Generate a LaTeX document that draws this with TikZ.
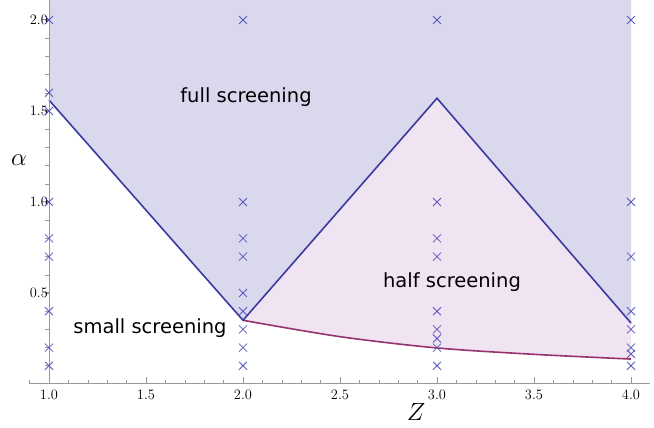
\documentclass[tikz,border=0pt]{standalone}
\usepackage{fontspec}
\setmainfont{Liberation Serif}
\newfontfamily\lblfont{DejaVu Sans}
\definecolor{cbfill}{RGB}{217,216,236}
\definecolor{cpfill}{RGB}{240,228,242}
\definecolor{cbline}{RGB}{58,58,160}
\definecolor{cpline}{RGB}{150,50,110}
\definecolor{ccross}{RGB}{90,90,190}
\begin{document}
\begin{tikzpicture}[
  bluefill/.style={fill=cbfill},
  pinkfill/.style={fill=cpfill},
  blueline/.style={draw=cbline,line width=1.6pt},
  purpline/.style={draw=cpline,line width=1.6pt},
  axis/.style={draw=gray!80,line width=1pt},
  crossline/.style={draw=ccross,line width=0.8pt},
  lbl/.style={font=\lblfont\fontsize{19.5}{22}\selectfont},
  tick/.style={font=\fontsize{14}{16}\selectfont}]
\useasboundingbox (0,0) rectangle (654pt,428pt);
\begin{scope}[x=194pt,y=182pt,shift={(-145pt,44pt)}]
  \fill[bluefill] (1,2.11) -- (1,1.56) -- (2,0.35) -- (3,1.57) -- (4,0.335) -- (4,2.11) -- cycle;
  \fill[pinkfill] (2,0.35) -- (3,1.57) -- (4,0.335) -- (4,0.137) plot[smooth] coordinates {(4,0.137) (3.5,0.163) (3,0.198) (2.5,0.26) (2,0.35)} -- cycle;
  \draw[purpline] plot[smooth] coordinates {(2,0.35) (2.5,0.26) (3,0.198) (3.5,0.163) (4,0.137)};
  \draw[blueline] (1,1.56) -- (2,0.35) -- (3,1.57) -- (4,0.335);
  \draw[axis] (0.902,0) -- (4.098,0);
  \draw[axis] (1,0) -- (1,2.11);
  \foreach \t in {0.9,1.0,...,4.05} \draw[axis,line width=0.6pt] (\t,0) -- ++(0,4pt);
  \foreach \t in {1.0,1.5,...,4.05} \draw[axis] (\t,0) -- ++(0,7pt);
  \foreach \t in {1.0,1.5,...,4.05} \node[tick,below] at (\t,-3pt) {\pgfmathprintnumber[fixed,fixed zerofill,precision=1]{\t}};
  \foreach \t in {0.1,0.2,...,2.05} \draw[axis,line width=0.6pt] (1,\t) -- ++(-4pt,0);
  \foreach \t in {0.5,1.0,...,2.05} \draw[axis] (1,\t) -- ++(-7pt,0);
  \foreach \t in {0.5,1.0,...,2.05} \node[tick,left,inner sep=1pt] at (1,\t) {\pgfmathprintnumber[fixed,fixed zerofill,precision=1]{\t}\hspace{5pt}};
  \foreach \p in {(1,2.0),(1,1.6),(1,1.5),(1,1.0),(1,0.8),(1,0.7),(1,0.4),(1,0.2),(1,0.1),
                  (2,2.0),(2,1.0),(2,0.8),(2,0.7),(2,0.5),(2,0.4),(2,0.3),(2,0.2),(2,0.1),
                  (3,2.0),(3,1.0),(3,0.8),(3,0.7),(3,0.4),(3,0.3),(3,0.25),(3,0.2),(3,0.1),
                  (4,2.0),(4,1.0),(4,0.7),(4,0.4),(4,0.3),(4,0.2),(4,0.165),(4,0.1)}
    \draw[crossline] \p ++(-4pt,-4pt) -- ++(8pt,8pt) \p ++(-4pt,4pt) -- ++(8pt,-8pt);
\end{scope}
\node[lbl] (full) at (246pt,331pt) {full screening};
\node[lbl] (half) at (452pt,146pt) {half screening};
\node[lbl] (small) at (150pt,100pt) {small screening};
\node (alpha) at (19pt,268pt) {\fontsize{30}{30}\selectfont$\alpha$};
\node (z) at (416pt,16pt) {\fontsize{34}{34}\selectfont$Z$};
\end{tikzpicture}
\end{document}
